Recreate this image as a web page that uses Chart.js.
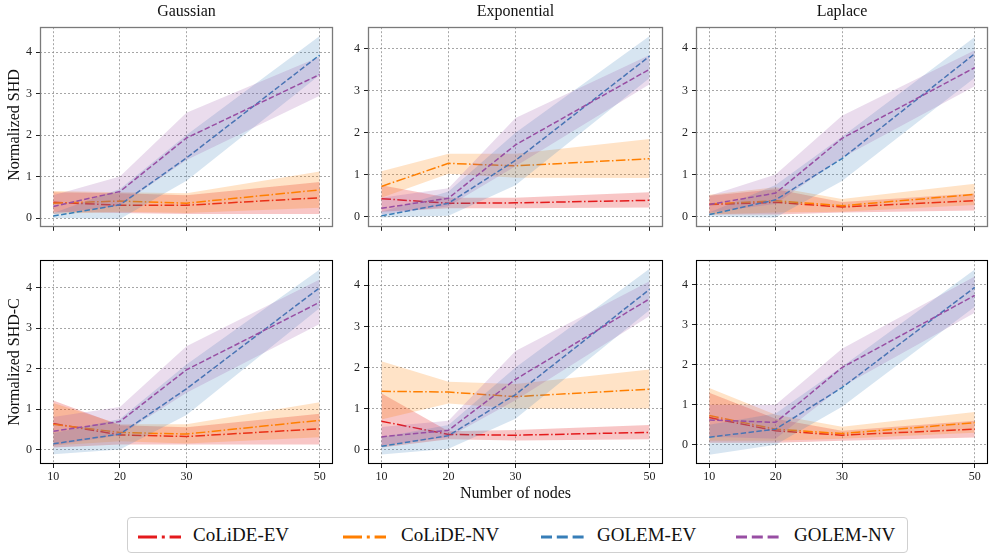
<!DOCTYPE html>
<html><head><meta charset="utf-8">
<script src="https://cdn.jsdelivr.net/npm/chart.js@4.4.0/dist/chart.umd.min.js"></script>
<style>
body{margin:0;background:#fff;width:990px;height:556px;overflow:hidden;position:relative;font-family:"Liberation Serif","Times New Roman",serif;}
.cv{position:absolute;}
.t{position:absolute;font-size:16px;color:#111;white-space:nowrap;transform:translate(-50%,-50%);line-height:1;}
.yl{transform:translate(-50%,-50%) rotate(-90deg);}
#legend{position:absolute;left:127px;top:517px;width:781px;height:36px;border:1px solid #d0d0d0;border-radius:4px;box-sizing:border-box;}
.li{position:absolute;top:0;height:34px;line-height:34px;font-size:19px;color:#111;white-space:nowrap;}
.ls{position:absolute;top:11px;}
</style></head><body>
<div id="root"></div>
<div id="legend"></div>
<script>
// ---------------- data ----------------
const nodes = [10, 20, 30, 50];
const yTickValues = [0, 1, 2, 3, 4];
const methods = ['CoLiDE-EV', 'CoLiDE-NV', 'GOLEM-EV', 'GOLEM-NV'];
const distributions = ['Gaussian', 'Exponential', 'Laplace'];
const metricLabels = ['Normalized SHD', 'Normalized SHD-C'];
const xAxisLabel = 'Number of nodes';

// each array: [CoLiDE-EV, CoLiDE-NV, GOLEM-EV, GOLEM-NV], values at nodes 10,20,30,50
const shdGaussianMean = [[0.38,0.31,0.31,0.49],[0.36,0.41,0.36,0.68],[0.05,0.32,1.45,3.93],[0.28,0.64,1.93,3.46]];
const shdGaussianLow  = [[0.15,0.12,0.10,0.10],[0.10,0.15,0.12,0.25],[0.00,-0.02,0.90,3.45],[0.10,0.30,1.40,2.95]];
const shdGaussianHigh = [[0.62,0.60,0.55,0.87],[0.65,0.62,0.60,1.12],[0.12,0.70,2.00,4.39],[0.55,1.00,2.54,3.89]];

const shdExponentialMean = [[0.43,0.32,0.33,0.39],[0.72,1.27,1.21,1.38],[0.02,0.32,1.34,3.82],[0.20,0.44,1.71,3.51]];
const shdExponentialLow  = [[0.12,0.20,0.20,0.22],[0.45,1.02,0.93,0.92],[-0.02,0.02,0.75,3.30],[0.05,0.25,1.20,3.15]];
const shdExponentialHigh = [[0.75,0.45,0.45,0.58],[1.08,1.50,1.50,1.85],[0.12,0.60,2.00,4.30],[0.45,0.68,2.35,3.85]];

const shdLaplaceMean = [[0.29,0.34,0.23,0.38],[0.30,0.38,0.26,0.53],[0.05,0.40,1.38,3.87],[0.29,0.56,1.86,3.54]];
const shdLaplaceLow  = [[0.05,0.05,0.10,0.15],[0.05,0.10,0.12,0.28],[0.00,-0.02,0.85,3.30],[0.10,0.30,1.40,3.10]];
const shdLaplaceHigh = [[0.50,0.65,0.35,0.55],[0.52,0.70,0.42,0.78],[0.10,0.75,1.90,4.27],[0.50,1.00,2.40,3.95]];

const shdcGaussianMean = [[0.64,0.36,0.32,0.51],[0.62,0.42,0.38,0.72],[0.14,0.38,1.50,4.00],[0.45,0.69,1.97,3.64]];
const shdcGaussianLow  = [[0.05,0.12,0.12,0.12],[0.10,0.20,0.15,0.30],[-0.12,0.00,0.85,3.50],[0.10,0.35,1.40,3.10]];
const shdcGaussianHigh = [[1.21,0.60,0.55,0.88],[1.15,0.62,0.62,1.17],[0.40,0.75,2.10,4.45],[0.80,1.05,2.55,4.20]];

const shdcExponentialMean = [[0.69,0.37,0.35,0.42],[1.42,1.40,1.29,1.47],[0.08,0.34,1.34,3.90],[0.31,0.47,1.71,3.67]];
const shdcExponentialLow  = [[0.05,0.25,0.22,0.25],[0.73,1.12,1.00,1.00],[-0.12,0.02,0.75,3.40],[0.10,0.30,1.20,3.25]];
const shdcExponentialHigh = [[1.37,0.45,0.48,0.60],[2.15,1.65,1.60,1.95],[0.30,0.60,2.00,4.40],[0.55,0.70,2.40,4.10]];

const shdcLaplaceMean = [[0.68,0.35,0.24,0.39],[0.73,0.39,0.28,0.55],[0.19,0.39,1.43,3.93],[0.62,0.56,1.93,3.73]];
const shdcLaplaceLow  = [[0.05,0.05,0.10,0.18],[0.10,0.10,0.15,0.30],[-0.25,0.00,0.95,3.45],[0.20,0.15,1.45,3.30]];
const shdcLaplaceHigh = [[1.30,0.65,0.35,0.60],[1.42,0.75,0.45,0.82],[0.50,0.78,1.95,4.38],[1.00,1.00,2.40,4.20]];

// ---------------- styling / layout ----------------
const colors = ['#e41a1c', '#ff7f00', '#377eb8', '#984ea3'];
const bandAlpha = [0.25, 0.22, 0.2, 0.2];
const lineDash = [[9.6,2.4,1.5,2.4],[9.6,2.4,1.5,2.4],[5.5,2.4],[5.5,2.4]];
const legendDash = [[19,4.8,3,4.8],[19,4.8,3,4.8],[11,4.8],[11,4.8]];
const FONT = '"Liberation Serif", "Times New Roman", serif';

const panels = [
  {row:0,col:0,mean:shdGaussianMean,low:shdGaussianLow,high:shdGaussianHigh,ymin:-0.21,ymax:4.60},
  {row:0,col:1,mean:shdExponentialMean,low:shdExponentialLow,high:shdExponentialHigh,ymin:-0.24,ymax:4.51},
  {row:0,col:2,mean:shdLaplaceMean,low:shdLaplaceLow,high:shdLaplaceHigh,ymin:-0.24,ymax:4.50},
  {row:1,col:0,mean:shdcGaussianMean,low:shdcGaussianLow,high:shdcGaussianHigh,ymin:-0.36,ymax:4.68},
  {row:1,col:1,mean:shdcExponentialMean,low:shdcExponentialLow,high:shdcExponentialHigh,ymin:-0.35,ymax:4.61},
  {row:1,col:2,mean:shdcLaplaceMean,low:shdcLaplaceLow,high:shdcLaplaceHigh,ymin:-0.48,ymax:4.61},
];
const plotLeft = [40, 368, 696], plotW = [293, 295, 292];
const plotTop = [20, 253], plotH = [210, 211];
const AXW = 34, PADT = 4, PADR = 4;
const XAXH = [8, 24];

function rgba(hex, a){
  const n = parseInt(hex.slice(1),16);
  return `rgba(${(n>>16)&255},${(n>>8)&255},${n&255},${a})`;
}

const framePlugin = {
  id:'frame',
  afterDatasetsDraw(chart, args, opts){
    const a = chart.chartArea, c = chart.ctx;
    c.save();
    c.strokeStyle = opts.color; c.lineWidth = opts.width;
    c.strokeRect(Math.round(a.left)+0.5, Math.round(a.top)+0.5, Math.round(a.right-a.left)-1, Math.round(a.bottom-a.top)-1);
    c.restore();
  }
};

const root = document.getElementById('root');

function addText(txt, x, y, cls){
  const d = document.createElement('div');
  d.className = 't' + (cls ? ' ' + cls : '');
  d.textContent = txt;
  d.style.left = x + 'px'; d.style.top = y + 'px';
  document.body.appendChild(d);
}

panels.forEach(p => {
  const w = AXW + plotW[p.col] + PADR;
  const h = PADT + plotH[p.row] + XAXH[p.row];
  const cv = document.createElement('canvas');
  cv.className = 'cv';
  cv.width = w; cv.height = h;
  cv.style.width = w + 'px'; cv.style.height = h + 'px';
  cv.style.left = (plotLeft[p.col] - AXW) + 'px';
  cv.style.top = (plotTop[p.row] - PADT) + 'px';
  root.appendChild(cv);

  const datasets = [];
  methods.forEach((m, k) => {
    const bandOrder = 2*(3-k)+1, lineOrder = 2*(3-k);
    datasets.push({
      label: m + ' low',
      data: nodes.map((x,i)=>({x, y:p.low[k][i]})),
      borderColor:'transparent', borderWidth:0, pointRadius:0, fill:false, tension:0, order:bandOrder
    });
    datasets.push({
      label: m + ' high',
      data: nodes.map((x,i)=>({x, y:p.high[k][i]})),
      borderColor:'transparent', borderWidth:0, pointRadius:0, fill:'-1',
      backgroundColor: rgba(colors[k], bandAlpha[k]), tension:0, order:bandOrder
    });
    datasets.push({
      label: m,
      data: nodes.map((x,i)=>({x, y:p.mean[k][i]})),
      borderColor: colors[k], borderWidth:1.5, borderDash: lineDash[k],
      pointRadius:0, fill:false, tension:0, order:lineOrder
    });
  });

  const gridCommon = {color:'#909090', lineWidth:0.8, drawTicks:true, tickLength:4, tickColor:'#222', tickWidth:1, tickBorderDash:[]};
  new Chart(cv, {
    type:'line',
    data:{datasets},
    plugins:[framePlugin],
    options:{
      responsive:false, animation:false, devicePixelRatio:1,
      layout:{padding:{top:PADT, right:PADR, left:0, bottom:0}},
      plugins:{legend:{display:false}, tooltip:{enabled:false}, frame:{color: p.row===0 ? '#7a7a7a' : '#000', width: p.row===0 ? 1.3 : 1.1}},
      scales:{
        x:{type:'linear', min:8, max:52,
           afterBuildTicks:s=>{s.ticks = nodes.map(v=>({value:v}));},
           afterFit:s=>{s.height = XAXH[p.row];},
           ticks:{display:p.row===1, autoSkip:false, maxRotation:0, padding:2, color:'#222', font:{family:FONT, size:12}},
           grid:gridCommon, border:{display:false, dash:[2,2]}},
        y:{type:'linear', min:p.ymin, max:p.ymax,
           afterBuildTicks:s=>{s.ticks = yTickValues.map(v=>({value:v}));},
           afterFit:s=>{s.width = AXW;},
           ticks:{padding:4, color:'#222', font:{family:FONT, size:12}},
           grid:gridCommon, border:{display:false, dash:[2,2]}}
      }
    }
  });
});

// titles and axis labels
distributions.forEach((d, c) => addText(d, plotLeft[c] + plotW[c]/2, 11));
metricLabels.forEach((m, r) => addText(m, 14, plotTop[r] + plotH[r]/2 + (r ? 3 : 0), 'yl'));
addText(xAxisLabel, plotLeft[1] + plotW[1]/2, 493);

// legend
const legend = document.getElementById('legend');
const sampleLeft = [10, 215, 413, 608];
const textLeft = [65, 273, 469, 666];
methods.forEach((m, k) => {
  const dash = legendDash[k].join(' ');
  const s = document.createElement('div');
  s.className = 'ls';
  s.style.left = sampleLeft[k] + 'px';
  s.innerHTML = `<svg width="44" height="12"><line x1="0" y1="6" x2="43" y2="6" stroke="${colors[k]}" stroke-width="3" stroke-dasharray="${dash}"/></svg>`;
  legend.appendChild(s);
  const t = document.createElement('div');
  t.className = 'li';
  t.style.left = textLeft[k] + 'px';
  t.textContent = m;
  legend.appendChild(t);
});
</script>
</body></html>
